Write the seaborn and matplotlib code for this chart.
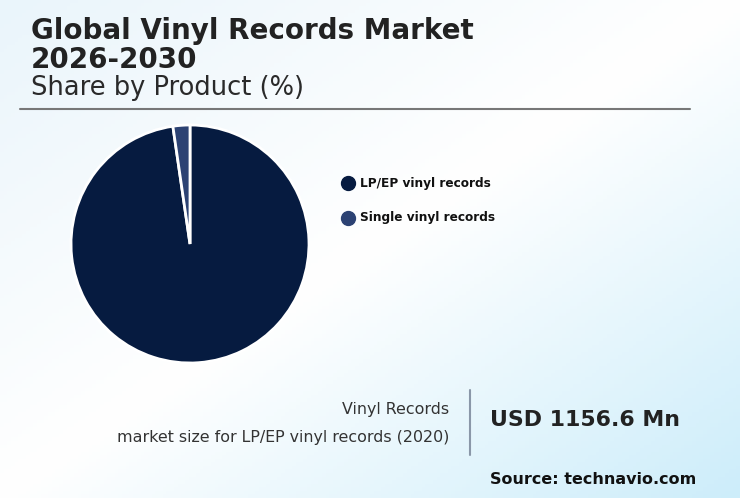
import matplotlib
matplotlib.use("Agg")
import matplotlib.pyplot as plt
import numpy as np
import pandas as pd
import seaborn as sns
from matplotlib.colors import LinearSegmentedColormap
from matplotlib.lines import Line2D

# data
products = ["LP/EP vinyl records", "Single vinyl records"]
shares = [97.7, 2.3]
slice_colors = ["#061b40", "#2c4273"]

title_lines = ["Global Vinyl Records Market", "2026-2030"]
subtitle = "Share by Product (%)"
kpi_label = "Vinyl Records"
kpi_note = "market size for LP/EP vinyl records (2020)"
kpi_value = "USD 1156.6 Mn"
source = "Source: technavio.com"

sns.set_theme(style="white")
plt.rcParams["font.family"] = ["DejaVu Sans"]

W, H = 740, 498
fig = plt.figure(figsize=(W / 100, H / 100), dpi=100)

# diagonal background gradient
bg = fig.add_axes([0, 0, 1, 1])
xx, yy = np.meshgrid(np.linspace(0, 1, 200), np.linspace(0, 1, 140))
grad = (xx + yy) / 2
cmap = LinearSegmentedColormap.from_list(
    "bg", [(0, "#eaf5fb"), (0.5, "#ffffff"), (1, "#cdedfa")]
)
bg.imshow(grad, cmap=cmap, aspect="auto", extent=[0, 1, 0, 1], origin="upper")
bg.set_axis_off()


def fx(px):
    return px / W


def fy(py):
    return 1 - py / H


fig.text(fx(31), fy(31), title_lines[0], fontsize=20, fontweight="bold",
         color="#222222", va="center", ha="left")
fig.text(fx(31), fy(60), title_lines[1], fontsize=20, fontweight="bold",
         color="#222222", va="center", ha="left")
fig.text(fx(31), fy(88), subtitle, fontsize=18.5, color="#2a2a2a", va="center")
fig.add_artist(Line2D([fx(20), fx(690)], [fy(109), fy(109)], color="#777777", lw=1.5))

# pie
r = 119
cx, cy = 190, 244
ax = fig.add_axes([fx(cx - r), fy(cy + r), (2 * r) / W, (2 * r) / H])
df = pd.DataFrame({"product": products, "share": shares})
ax.pie(df["share"], colors=slice_colors, startangle=90, counterclock=False,
       wedgeprops=dict(edgecolor="white", linewidth=2), radius=1)
ax.set_xlim(-1, 1)
ax.set_ylim(-1, 1)
ax.set_aspect("equal")
ax.set_axis_off()

# legend
for i, (name, col) in enumerate(zip(products, slice_colors)):
    y = 183 + i * 35
    fig.add_artist(Line2D([fx(348)], [fy(y)], marker="o", markersize=10,
                          color=col, linestyle="none"))
    fig.text(fx(360), fy(y), name, fontsize=8.7, fontweight="bold", color="#111111",
             va="center", ha="left")

# KPI block
fig.text(fx(449), fy(409), kpi_label, fontsize=11.4, color="#333333", ha="right", va="center")
fig.text(fx(449), fy(437), kpi_note, fontsize=11.4, color="#333333", ha="right", va="center")
fig.add_artist(Line2D([fx(470), fx(470)], [fy(390), fy(455)], color="#8a97a8", lw=1.5))
fig.text(fx(490), fy(420), kpi_value, fontsize=15.8, fontweight="bold", color="#222222",
         ha="left", va="center")
fig.text(fx(490), fy(479), source, fontsize=11.5, fontweight="bold", color="#111111",
         ha="left", va="center")

fig.savefig("out.png", dpi=100)
plt.close(fig)
